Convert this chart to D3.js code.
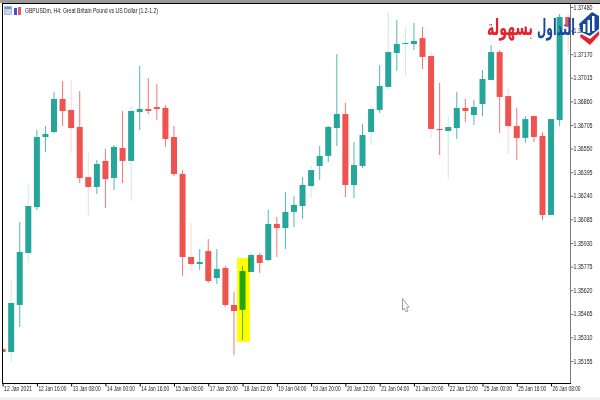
<!DOCTYPE html>
<html lang="en">
<head>
    <meta charset="UTF-8">
    <title>GBPUSD H4</title>
    <script src="https://d3js.org/d3.v7.min.js"></script>
    <style>
        html, body { margin: 0; padding: 0; background: #fff; }
        svg { display: block; }
        text { font-family: "Liberation Sans", sans-serif; fill: #222; }
    </style>
</head>
<body>
<div id="chart"></div>
<script>
    // candles
    const opens = [1.35234,1.35214,1.35523,1.35864,1.36166,1.36626,1.36659,1.36876,1.36804,1.36692,1.36363,1.36298,1.36469,1.36357,1.36554,1.36469,1.36790,1.36810,1.36823,1.36817,1.36626,1.36383,1.35838,1.35792,1.35877,1.35700,1.35766,1.35523,1.35491,1.35740,1.35851,1.35818,1.36055,1.36028,1.36134,1.36173,1.36304,1.36436,1.36502,1.36685,1.36777,1.36311,1.36436,1.36659,1.36804,1.36955,1.37178,1.37237,1.37237,1.37276,1.37158,1.36679,1.36666,1.36685,1.36817,1.36771,1.36843,1.37001,1.37184,1.36895,1.36698,1.36620,1.36764,1.36633,1.36114,1.36738,1.37414];
    const highs = [1.35234,1.35680,1.36068,1.36311,1.36672,1.36698,1.36922,1.36994,1.37001,1.36928,1.36521,1.36475,1.36547,1.36574,1.36797,1.36830,1.37092,1.37014,1.36974,1.36836,1.36698,1.36409,1.36061,1.35891,1.35956,1.35891,1.35779,1.35608,1.35779,1.35858,1.35864,1.36147,1.36101,1.36265,1.36239,1.36363,1.36442,1.36567,1.36698,1.37171,1.36850,1.36593,1.36712,1.36830,1.37099,1.37447,1.37395,1.37349,1.37375,1.37349,1.37184,1.36981,1.36764,1.36922,1.36876,1.36869,1.37066,1.37230,1.37198,1.36948,1.36817,1.36764,1.36764,1.36659,1.36744,1.37434,1.37434];
    const lows = [1.35214,1.35148,1.35378,1.35799,1.36147,1.36528,1.36653,1.36698,1.36521,1.36324,1.36107,1.36252,1.36160,1.36278,1.36324,1.36206,1.36672,1.36777,1.36738,1.36561,1.36370,1.35713,1.35746,1.35753,1.35667,1.35661,1.35510,1.35194,1.35293,1.35740,1.35733,1.35812,1.35838,1.35891,1.36035,1.36088,1.36226,1.36344,1.36462,1.36567,1.36232,1.36226,1.36423,1.36574,1.36784,1.36935,1.37060,1.37027,1.37198,1.37073,1.36620,1.36508,1.36350,1.36613,1.36725,1.36705,1.36764,1.37001,1.36653,1.36515,1.36475,1.36587,1.36593,1.36081,1.36114,1.36698,1.37165];
    const closes = [1.35214,1.35536,1.35871,1.36173,1.36626,1.36646,1.36876,1.36797,1.36685,1.36357,1.36298,1.36449,1.36350,1.36561,1.36469,1.36797,1.36810,1.36797,1.36810,1.36613,1.36383,1.35838,1.35792,1.35805,1.35680,1.35759,1.35523,1.35483,1.35746,1.35851,1.35799,1.36055,1.36028,1.36134,1.36180,1.36311,1.36409,1.36502,1.36692,1.36777,1.36311,1.36442,1.36639,1.36810,1.36961,1.37184,1.37237,1.37244,1.37257,1.37152,1.36679,1.36672,1.36692,1.36817,1.36797,1.36823,1.37007,1.37184,1.36889,1.36698,1.36620,1.36744,1.36626,1.36114,1.36744,1.37414,1.37349];

    const priceTicks = [1.37480,1.37325,1.37170,1.37015,1.36860,1.36705,1.36550,1.36395,1.36240,1.36085,1.35930,1.35775,1.35620,1.35465,1.35310,1.35155];
    const timeTicks = [0,4,8,12,16,20,24,28,32,36,40,44,48,52,56,60,64];
    const timeLabels = ["12 Jan 2021","12 Jan 16:00","13 Jan 08:00","14 Jan 00:00","14 Jan 16:00","15 Jan 08:00","17 Jan 20:00","18 Jan 12:00","19 Jan 04:00","19 Jan 20:00","20 Jan 12:00","21 Jan 04:00","21 Jan 20:00","22 Jan 12:00","25 Jan 00:00","25 Jan 16:00","26 Jan 08:00"];
    const highlightIndex = 28;
    // wicks that came out washed out in the screenshot
    const paleWicks = [1,3,8,10,15,22,36,43,45,47,50,52,59,66];

    const width = 600;
    const height = 400;
    const up = "#26a69a";
    const down = "#ef5350";

    const x = d3.scaleLinear().domain([0, 66]).range([2.6, 568.2]);
    const y = d3.scaleLinear().domain([1.35155, 1.37480]).range([361, 7]);

    const svg = d3.select("#chart").append("svg")
        .attr("width", width)
        .attr("height", height);

    svg.append("rect").attr("width", width).attr("height", height).attr("fill", "#fff");

    // window frame
    svg.append("rect").attr("width", width).attr("height", 3).attr("fill", "#9a9a9a");
    svg.append("rect").attr("y", 397).attr("width", width).attr("height", 3).attr("fill", "#f0f0f0");

    svg.append("clipPath").attr("id", "plot")
        .append("rect").attr("x", 2.5).attr("y", 3).attr("width", 568).attr("height", 380);

    const candles = svg.append("g").attr("clip-path", "url(#plot)");
    const rows = d3.range(opens.length);

    candles.selectAll(".wick")
        .data(rows)
        .enter().append("line")
        .attr("class", "wick")
        .attr("x1", i => x(i))
        .attr("x2", i => x(i))
        .attr("y1", i => y(highs[i]))
        .attr("y2", i => y(lows[i]))
        .attr("stroke", i => closes[i] >= opens[i] ? up : down)
        .attr("stroke-opacity", i => paleWicks.includes(i) ? 0.3 : 1)
        .attr("stroke-width", 0.8);

    candles.selectAll(".body")
        .data(rows)
        .enter().append("rect")
        .attr("class", "body")
        .attr("x", i => x(i) - 3)
        .attr("width", 6)
        .attr("y", i => y(Math.max(opens[i], closes[i])))
        .attr("height", i => Math.max(1, Math.abs(y(opens[i]) - y(closes[i]))))
        .attr("fill", i => closes[i] >= opens[i] ? up : down);

    // marker over the picked candle, multiplied so the teal turns green
    svg.append("rect")
        .attr("x", x(highlightIndex) - 5.5)
        .attr("width", 13)
        .attr("y", 258)
        .attr("height", 84)
        .attr("fill", "#ffff00")
        .style("mix-blend-mode", "multiply");

    // axes
    const yAxis = d3.axisRight(y)
        .tickValues(priceTicks)
        .tickFormat(d3.format(".5f"))
        .tickSize(3)
        .tickPadding(0);
    const yG = svg.append("g").attr("transform", "translate(570.5,0)").call(yAxis);
    yG.select(".domain").attr("stroke", "#777").attr("d", "M0,3V383");
    yG.selectAll(".tick line").attr("stroke", "#777");
    yG.selectAll("text")
        .attr("x", 3)
        .attr("font-size", 6.5)
        .attr("textLength", 19)
        .attr("lengthAdjust", "spacingAndGlyphs");

    const xAxis = d3.axisBottom(x)
        .tickValues(timeTicks)
        .tickFormat((d, i) => timeLabels[i])
        .tickSize(3)
        .tickPadding(0);
    const xG = svg.append("g").attr("transform", "translate(0,383.5)").call(xAxis);
    xG.select(".domain").attr("stroke", "#000").attr("d", "M2,0H571");
    xG.selectAll(".tick line").attr("stroke", "#000");
    xG.selectAll("text")
        .attr("text-anchor", "start")
        .attr("x", 1)
        .attr("y", 3)
        .attr("font-size", 6.5)
        .attr("textLength", 28)
        .attr("lengthAdjust", "spacingAndGlyphs");

    svg.append("line").attr("x1", 2.5).attr("x2", 2.5).attr("y1", 3).attr("y2", 384).attr("stroke", "#000");
    svg.append("line").attr("x1", 2).attr("x2", width).attr("y1", 3.5).attr("y2", 3.5).attr("stroke", "#000");

    // title and the little toolbar icons
    svg.append("text")
        .attr("x", 25).attr("y", 13)
        .attr("font-size", 6.5)
        .attr("textLength", 133)
        .attr("lengthAdjust", "spacingAndGlyphs")
        .text("GBPUSDm, H4: Great Britain Pound vs US Dollar (1.2-1.2)");

    const icons = svg.append("g");
    icons.append("rect").attr("x", 4.5).attr("y", 6.5).attr("width", 7).attr("height", 8).attr("fill", "#c9d3ea").attr("stroke", "#8a97b8").attr("stroke-width", 0.6);
    icons.append("rect").attr("x", 5).attr("y", 7).attr("width", 6).attr("height", 2).attr("fill", "#6f8fd8");
    icons.append("rect").attr("x", 14).attr("y", 8).attr("width", 3).attr("height", 7).attr("fill", "#3f4fe0");
    icons.append("rect").attr("x", 18).attr("y", 7).attr("width", 3).attr("height", 8).attr("fill", "#e85a5a");

    // mouse cursor left on the screenshot
    svg.append("path")
        .attr("d", "M402.5,298.5L402.5,310L404.5,308.5L406,312L408,311L406.5,307.5L409,307Z")
        .attr("fill", "#fff")
        .attr("stroke", "#777")
        .attr("stroke-width", 0.7);

    // site logo
    const logo = svg.append("g");
    logo.append("text")
        .attr("x", 487).attr("y", 35)
        .attr("font-size", 22)
        .attr("font-weight", "bold")
        .attr("textLength", 46)
        .attr("lengthAdjust", "spacingAndGlyphs")
        .style("font-family", "'DejaVu Sans'")
        .style("fill", "#e2232b")
        .text("بسهولة");
    logo.append("text")
        .attr("x", 537).attr("y", 35)
        .attr("font-size", 22)
        .attr("font-weight", "bold")
        .attr("textLength", 38)
        .attr("lengthAdjust", "spacingAndGlyphs")
        .style("font-family", "'DejaVu Sans'")
        .style("fill", "#174a9c")
        .text("التداول");
    logo.append("path").attr("d", "M579,24L592,12L599,16L599,29L590,36L581,32Z").attr("fill", "#174a9c");
    logo.append("path").attr("d", "M583,24h2.5v8h-2.5ZM587.5,20h2.5v13h-2.5ZM592,16h2.5v15h-2.5Z").attr("fill", "#fff");
    logo.append("path").attr("d", "M581,34L590,39L599,31L599,35L590,45L580,37Z").attr("fill", "#e2232b");
</script>
</body>
</html>
